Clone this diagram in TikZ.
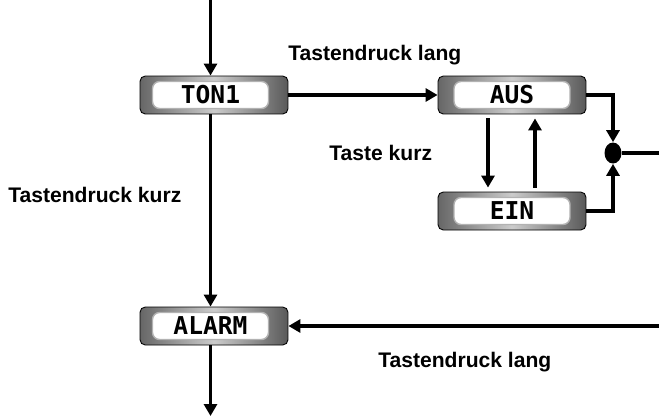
\documentclass[tikz,border=0pt]{standalone}
\usepackage{fontspec}
\setmainfont{Liberation Sans}
\newfontfamily\lcdfont{DejaVu Sans Mono}
\usetikzlibrary{arrows.meta,shapes.geometric}

\tikzset{
	bezel/.style={draw=black, line width=0.5pt, rounded corners=3pt, minimum width=2.96cm, minimum height=0.76cm, left color=gray!80!black, right color=gray!70!black, middle color=gray!40},
	screen/.style={draw=gray!60, line width=0.8pt, fill=white, rounded corners=4pt, minimum width=2.32cm, minimum height=0.54cm, inner sep=0pt, font=\lcdfont\bfseries\fontsize{14}{14}\selectfont},
	lbl/.style={anchor=base west, inner sep=0pt, font=\bfseries\fontsize{12}{12}\selectfont},
	flow/.style={line width=1.8pt, -{Triangle[length=0.24cm,width=0.26cm]}}
}

\begin{document}
\begin{tikzpicture}[x=0.02cm, y=-0.02cm]
			%%%%% START %%%%%
			\useasboundingbox (0,0) rectangle (659,416);
			
			\node[bezel] (ton) at (214,95) {};
			\node[screen] (ton-s) at (210.5,95) {TON1};
			
			\node[bezel] (aus) at (512,95) {};
			\node[screen] (aus-s) at (512,95) {AUS};
			
			\node[bezel] (ein) at (512,211) {};
			\node[screen] (ein-s) at (512,211) {EIN};
			
			\node[bezel] (alarm) at (214,326) {};
			\node[screen] (alarm-s) at (210.5,326) {ALARM};
			
			\node[shape=ellipse, fill=black, minimum width=0.34cm, minimum height=0.42cm, inner sep=0pt] (dot) at (613,153) {};
			
			\coordinate (in) at (210.5,0);
			\coordinate (out) at (210.5,416);
			\coordinate (exit) at (659,153);
			\coordinate (enter) at (659,326);
			
			\draw[flow] (in) -- (in |- ton.north);
			\draw[flow] (ton-s |- ton.south) -- (ton-s |- alarm.north);
			\draw[flow] (alarm-s |- alarm.south) -- (out);
			\draw[flow] (ton.east) -- (aus.west);
			
			\draw[flow, shorten <=0.08cm, shorten >=0.08cm] ([xshift=-0.48cm]aus.south) -- ([xshift=-0.48cm]ein.north);
			\draw[flow, shorten <=0.08cm, shorten >=0.08cm] ([xshift=0.46cm]ein.north) -- ([xshift=0.46cm]aus.south);
			
			\draw[flow] (aus.east) -| (dot.north);
			\draw[flow] (ein.east) -| (dot.south);
			\draw[line width=1.8pt] (dot.east) -- (exit);
			\draw[flow] (enter) -- (alarm.east);
			
			\node[lbl] (lang-top) at (288,60) {Tastendruck lang};
			\node[lbl] (taste-kurz) at (329,160) {Taste kurz};
			\node[lbl] (kurz-left) at (8,202) {Tastendruck kurz};
			\node[lbl] (lang-bot) at (378,367) {Tastendruck lang};
			
			%%%%% END %%%%%
\end{tikzpicture}
\end{document}
